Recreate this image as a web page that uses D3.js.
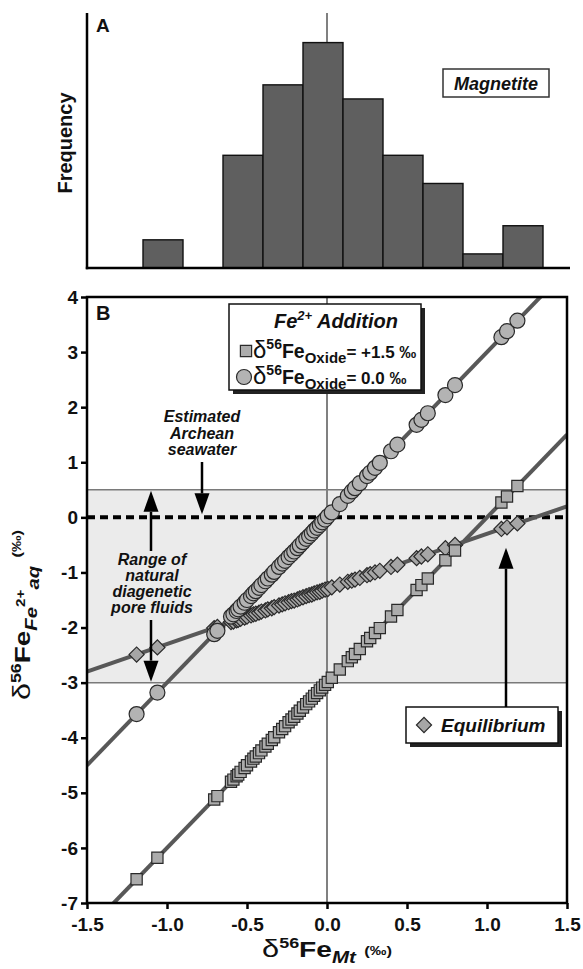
<!DOCTYPE html>
<html>
<head>
<meta charset="utf-8">
<script src="https://cdn.jsdelivr.net/npm/d3@7"></script>
<style>
  body { margin: 0; background: #fff; }
  svg { display: block; }
  text { font-family: "Liberation Sans", Arial, Helvetica, sans-serif; font-weight: bold; fill: #111; }
</style>
</head>
<body>
<svg id="chart" width="583" height="969"></svg>
<script>
// ---- Panel A: magnetite δ56Fe histogram ----
const binEdges  = [-1.15, -0.9, -0.65, -0.4, -0.15, 0.1, 0.35, 0.6, 0.85, 1.1, 1.35];
const binCounts = [2, 0, 8, 13, 16, 12, 8, 6, 1, 3];

// ---- Panel B: modelled δ56Fe of aqueous Fe2+ vs. magnetite δ56Fe ----
const mtValues = [-1.19, -1.06, -0.705, -0.685,
  -0.6, -0.585, -0.565, -0.555, -0.54, -0.515, -0.5, -0.475, -0.46, -0.445,
  -0.425, -0.41, -0.385, -0.37, -0.345, -0.33, -0.3, -0.28, -0.262, -0.24,
  -0.222, -0.205, -0.185, -0.17, -0.15, -0.13, -0.112, -0.095, -0.08, -0.062,
  -0.045, -0.03, -0.012, 0.005, 0.03,
  0.08, 0.13, 0.155, 0.175, 0.205, 0.25, 0.27, 0.3, 0.33, 0.4,
  0.44, 0.56, 0.59, 0.63, 0.74, 0.8, 1.09, 1.125, 1.19];

// Fe2+ addition, oxide δ56Fe = +1.5 ‰ (squares)
const aqOxide15 = [-6.57, -6.18, -5.12, -5.06,
  -4.80, -4.76, -4.70, -4.67, -4.62, -4.55, -4.50, -4.43, -4.38, -4.34,
  -4.28, -4.23, -4.16, -4.11, -4.04, -3.99, -3.90, -3.84, -3.79, -3.72,
  -3.67, -3.62, -3.56, -3.51, -3.45, -3.39, -3.34, -3.29, -3.24, -3.19,
  -3.14, -3.09, -3.04, -2.99, -2.91,
  -2.76, -2.61, -2.54, -2.48, -2.39, -2.25, -2.19, -2.10, -2.01, -1.80,
  -1.68, -1.32, -1.23, -1.11, -0.78, -0.60, 0.27, 0.38, 0.57];

// Fe2+ addition, oxide δ56Fe = 0.0 ‰ (circles)
const aqOxide0 = [-3.57, -3.18, -2.12, -2.06,
  -1.80, -1.76, -1.70, -1.67, -1.62, -1.55, -1.50, -1.43, -1.38, -1.34,
  -1.28, -1.23, -1.16, -1.11, -1.04, -0.99, -0.90, -0.84, -0.79, -0.72,
  -0.67, -0.62, -0.56, -0.51, -0.45, -0.39, -0.34, -0.29, -0.24, -0.19,
  -0.14, -0.09, -0.04, 0.02, 0.09,
  0.24, 0.39, 0.47, 0.53, 0.62, 0.75, 0.81, 0.90, 0.99, 1.20,
  1.32, 1.68, 1.77, 1.89, 2.22, 2.40, 3.27, 3.38, 3.57];

// Isotopic equilibrium with magnetite (diamonds)
const aqEquilibrium = [-2.49, -2.36, -2.01, -1.99,
  -1.90, -1.89, -1.87, -1.86, -1.84, -1.82, -1.80, -1.78, -1.76, -1.75,
  -1.73, -1.71, -1.69, -1.67, -1.65, -1.63, -1.60, -1.58, -1.56, -1.54,
  -1.52, -1.51, -1.49, -1.47, -1.45, -1.43, -1.41, -1.40, -1.38, -1.36,
  -1.35, -1.33, -1.31, -1.30, -1.27,
  -1.22, -1.17, -1.15, -1.13, -1.10, -1.05, -1.03, -1.00, -0.97, -0.90,
  -0.86, -0.74, -0.71, -0.67, -0.56, -0.50, -0.21, -0.18, -0.11];

// Trend lines [slope, intercept]
const fitOxide15 = [3.0, -3.0];
const fitOxide0 = [3.0, 0.0];
const fitEquilibrium = [1.0, -1.3];

// Reference levels (‰)
const archeanSeawater = 0.0;
const porefluidRange = [-3.0, 0.5];

const xDomain = [-1.5, 1.5];
const yDomain = [-7, 4];
const xTicks = [-1.5, -1.0, -0.5, 0.0, 0.5, 1.0, 1.5];
const yTicks = [4, 3, 2, 1, 0, -1, -2, -3, -4, -5, -6, -7];

// ---- layout ----
const svg = d3.select("#chart");
const L = 87, R = 567, T = 297, B = 903;
const hTop = 13, hBase = 268;

const x = d3.scaleLinear().domain(xDomain).range([L, R]);
const y = d3.scaleLinear().domain(yDomain).range([B, T]);
const yh = d3.scaleLinear().domain([0, 18.1]).range([hBase, hTop]);

const lineGray = "#585858";
const markFill = "#b3b3b3";
const markStroke = "#2a2a2a";

// horizontal stretch factor that brings a text element to a given length
function fitLength(sel, len) {
  const w = sel.node().getComputedTextLength();
  return len / w;
}

// ================= Panel A =================
const gA = svg.append("g");
const peak = d3.max(binCounts);
// zero reference line behind the bars
gA.append("line")
  .attr("x1", x(0)).attr("x2", x(0))
  .attr("y1", hTop).attr("y2", yh(peak))
  .attr("stroke", "#808080").attr("stroke-width", 2);

gA.selectAll("rect.bar")
  .data(binCounts.map((c, i) => ({c, x0: binEdges[i], x1: binEdges[i + 1]})).filter(d => d.c > 0))
  .join("rect")
  .attr("class", "bar")
  .attr("x", d => x(d.x0)).attr("width", d => x(d.x1) - x(d.x0))
  .attr("y", d => yh(d.c)).attr("height", d => yh(0) - yh(d.c))
  .attr("fill", "#5f5f5f").attr("stroke", "#111").attr("stroke-width", 1.4);

gA.append("line").attr("x1", L).attr("x2", L).attr("y1", hTop).attr("y2", hBase + 1.2)
  .attr("stroke", "#000").attr("stroke-width", 2.5);
gA.append("line").attr("x1", L - 1.2).attr("x2", R + 3).attr("y1", hBase).attr("y2", hBase)
  .attr("stroke", "#000").attr("stroke-width", 2.5);

gA.append("text").attr("x", 96).attr("y", 32).attr("font-size", 19).text("A");
gA.append("text")
  .attr("transform", `translate(72,143) rotate(-90)`)
  .attr("text-anchor", "middle").attr("font-size", 20).text("Frequency");

gA.append("rect").attr("x", 443).attr("y", 69).attr("width", 106).attr("height", 28)
  .attr("fill", "#fff").attr("stroke", "#333").attr("stroke-width", 1.5);
gA.append("text").attr("x", 496).attr("y", 89.5).attr("text-anchor", "middle")
  .attr("font-size", 18).attr("font-style", "italic").text("Magnetite");

// ================= Panel B =================
const gB = svg.append("g");
gB.append("clipPath").attr("id", "plotClip")
  .append("rect").attr("x", L).attr("y", T).attr("width", R - L).attr("height", B - T);

// pore-fluid band
gB.append("rect")
  .attr("x", L).attr("width", R - L)
  .attr("y", y(porefluidRange[1])).attr("height", y(porefluidRange[0]) - y(porefluidRange[1]))
  .attr("fill", "#ebebeb");
gB.selectAll("line.band").data(porefluidRange).join("line")
  .attr("class", "band")
  .attr("x1", L).attr("x2", R).attr("y1", d => y(d)).attr("y2", d => y(d))
  .attr("stroke", "#7a7a7a").attr("stroke-width", 1.5);

// zero line
gB.append("line").attr("x1", x(0)).attr("x2", x(0)).attr("y1", T).attr("y2", B)
  .attr("stroke", "#808080").attr("stroke-width", 2);

// Archean seawater estimate
gB.append("line").attr("x1", L).attr("x2", R)
  .attr("y1", y(archeanSeawater)).attr("y2", y(archeanSeawater))
  .attr("stroke", "#000").attr("stroke-width", 4).attr("stroke-dasharray", "8,5");

// trend lines
const plotArea = gB.append("g").attr("clip-path", "url(#plotClip)");
const trend = d3.line().x(d => x(d[0])).y(d => y(d[1]));
[fitEquilibrium, fitOxide15, fitOxide0].forEach(f => {
  plotArea.append("path")
    .attr("d", trend(xDomain.map(v => [v, f[0] * v + f[1]])))
    .attr("fill", "none").attr("stroke", lineGray).attr("stroke-width", 4);
});

// markers
const diamondSym = d3.symbol().type(d3.symbolSquare).size(114);
const squareSym = d3.symbol().type(d3.symbolSquare).size(126);
const pts = vals => mtValues.map((v, i) => [v, vals[i]]);

plotArea.selectAll("path.eq").data(pts(aqEquilibrium)).join("path")
  .attr("class", "eq").attr("d", diamondSym)
  .attr("transform", d => `translate(${x(d[0])},${y(d[1])}) rotate(45)`)
  .attr("fill", "#a6a6a6").attr("stroke", markStroke).attr("stroke-width", 1.2);

plotArea.selectAll("path.sq").data(pts(aqOxide15)).join("path")
  .attr("class", "sq").attr("d", squareSym)
  .attr("transform", d => `translate(${x(d[0])},${y(d[1])})`)
  .attr("fill", "#acacac").attr("stroke", markStroke).attr("stroke-width", 1.2);

plotArea.selectAll("circle.ci").data(pts(aqOxide0)).join("circle")
  .attr("class", "ci").attr("cx", d => x(d[0])).attr("cy", d => y(d[1])).attr("r", 7.5)
  .attr("fill", markFill).attr("stroke", markStroke).attr("stroke-width", 1.2);

// frame
gB.append("rect").attr("x", L).attr("y", T).attr("width", R - L).attr("height", B - T)
  .attr("fill", "none").attr("stroke", "#000").attr("stroke-width", 2.5);

// axes
const xAxis = d3.axisBottom(x).tickValues(xTicks).tickSize(6).tickPadding(9)
  .tickFormat(d => d.toFixed(1));
const yAxis = d3.axisLeft(y).tickValues(yTicks).tickSize(6).tickPadding(3)
  .tickFormat(d => String(d));
const gx = gB.append("g").attr("transform", `translate(0,${B})`).call(xAxis);
const gy = gB.append("g").attr("transform", `translate(${L},0)`).call(yAxis);
[gx, gy].forEach(g => {
  g.select(".domain").remove();
  g.selectAll(".tick line").attr("stroke", "#000").attr("stroke-width", 2.5);
  g.selectAll(".tick text").attr("font-size", 19).attr("font-weight", "bold")
    .attr("font-family", '"Liberation Sans", Arial, sans-serif').attr("fill", "#111");
});

// axis titles
const xt = gB.append("text").attr("text-anchor", "middle");
xt.append("tspan").attr("font-size", 24).attr("font-weight", "normal").text("δ");
xt.append("tspan").attr("font-size", 14).attr("dy", -9).text("56");
xt.append("tspan").attr("font-size", 22).attr("dy", 9).text("Fe");
xt.append("tspan").attr("font-size", 16).attr("font-style", "italic").attr("dy", 6).text("Mt");
xt.append("tspan").attr("font-size", 13).attr("dy", -8).text("\u2002(‰)");
xt.attr("transform", `translate(327,957) scale(${fitLength(xt, 130)},1)`);

const yt = gB.append("text");
yt.append("tspan").attr("font-size", 24).attr("font-weight", "normal").text("δ");
yt.append("tspan").attr("font-size", 14).attr("dy", -9).text("56");
yt.append("tspan").attr("font-size", 22).attr("dy", 9).text("Fe");
yt.append("tspan").attr("font-size", 16).attr("font-style", "italic").attr("dy", 7).text("Fe");
yt.append("tspan").attr("font-size", 12).attr("dy", -12).text("2+");
yt.append("tspan").attr("font-size", 16).attr("font-style", "italic").attr("dy", 14).text("aq");
yt.append("tspan").attr("font-size", 13).attr("dy", -18).text("\u2002(‰)");
yt.attr("transform", `translate(30,700) rotate(-90) scale(${fitLength(yt, 170)},1)`);

gB.append("text").attr("x", 96).attr("y", 320).attr("font-size", 20).text("B");

// ---- Fe2+ addition legend ----
const lg = gB.append("g");
lg.append("rect").attr("x", 233).attr("y", 308).attr("width", 192).attr("height", 86).attr("fill", "#222");
lg.append("rect").attr("x", 229).attr("y", 304).attr("width", 192).attr("height", 86)
  .attr("fill", "#fff").attr("stroke", "#111").attr("stroke-width", 1.5);
const lt = lg.append("text").attr("x", 336).attr("y", 328).attr("text-anchor", "middle")
  .attr("font-size", 20).attr("font-style", "italic");
lt.append("tspan").text("Fe");
lt.append("tspan").attr("font-size", 13).attr("dy", -8).text("2+");
lt.append("tspan").attr("dy", 8).text(" Addition");

lg.append("path").attr("d", squareSym).attr("transform", "translate(246,351)")
  .attr("fill", "#acacac").attr("stroke", markStroke).attr("stroke-width", 1.2);
lg.append("circle").attr("cx", 244).attr("cy", 377).attr("r", 7.5)
  .attr("fill", markFill).attr("stroke", markStroke).attr("stroke-width", 1.2);

function oxideEntry(yBase, valueText) {
  const t = lg.append("text").attr("x", 253).attr("y", yBase).attr("font-size", 17);
  t.append("tspan").attr("font-size", 24).attr("font-weight", "normal").text("δ");
  t.append("tspan").attr("font-size", 14).attr("dy", -9).text("56");
  t.append("tspan").attr("font-size", 19.5).attr("dy", 9).text("Fe");
  t.append("tspan").attr("font-size", 15).attr("dy", 5).text("Oxide");
  t.append("tspan").attr("font-size", 17).attr("dy", -5).text(valueText);
}
oxideEntry(358, "= +1.5 ‰");
oxideEntry(384, "= 0.0 ‰");

// ---- Equilibrium legend ----
const eq = gB.append("g");
eq.append("rect").attr("x", 410).attr("y", 711).attr("width", 152).attr("height", 36).attr("fill", "#222");
eq.append("rect").attr("x", 406).attr("y", 707).attr("width", 152).attr("height", 36)
  .attr("fill", "#fff").attr("stroke", "#111").attr("stroke-width", 1.5);
eq.append("path").attr("d", diamondSym).attr("transform", "translate(424,725) rotate(45)")
  .attr("fill", "#a6a6a6").attr("stroke", markStroke).attr("stroke-width", 1.2);
eq.append("text").attr("x", 441).attr("y", 732).attr("font-size", 19).attr("font-style", "italic")
  .text("Equilibrium");

// ---- annotation arrows ----
function arrow(xp, yFrom, yTo) {
  const dir = yTo > yFrom ? 1 : -1;
  const headLen = 21, headHalf = 7.5;
  const yBase = yTo - dir * headLen;
  gB.append("line").attr("x1", xp).attr("x2", xp).attr("y1", yFrom).attr("y2", yBase)
    .attr("stroke", "#000").attr("stroke-width", 2.5);
  gB.append("path")
    .attr("d", `M${xp - headHalf},${yBase} L${xp + headHalf},${yBase} L${xp},${yTo} Z`)
    .attr("fill", "#000");
}
arrow(202, 462, y(archeanSeawater) - 3);
arrow(151, 551, y(porefluidRange[1]) + 1);
arrow(151, 620, y(porefluidRange[0]) - 1);
arrow(506, 707, y(-0.55));

function noteLines(cx, baselines, lines) {
  const t = gB.append("text").attr("text-anchor", "middle").attr("font-size", 16).attr("font-style", "italic");
  lines.forEach((s, i) => t.append("tspan").attr("x", cx).attr("y", baselines[i]).text(s));
}
noteLines(202, [422, 439, 455], ["Estimated", "Archean", "seawater"]);
noteLines(152, [565, 581, 597, 613], ["Range of", "natural", "diagenetic", "pore fluids"]);
</script>
</body>
</html>
